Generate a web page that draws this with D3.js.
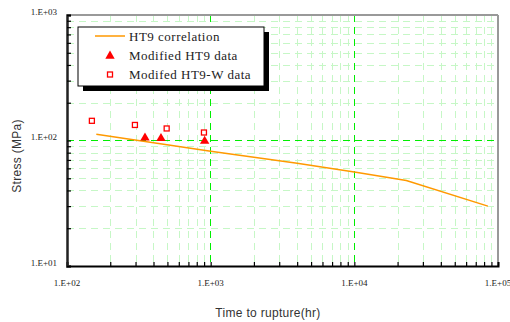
<!DOCTYPE html>
<html>
<head>
<meta charset="utf-8">
<script src="https://cdn.jsdelivr.net/npm/d3@7"></script>
<style>
  body { margin: 0; background: #fff; }
  svg { display: block; }
</style>
</head>
<body>
<svg id="chart"></svg>
<script>
"use strict";

// HT9 correlation curve (time to rupture hr, stress MPa)
const corrTime = [160, 1000, 4000, 10000, 23000, 85000];
const corrStress = [112, 82, 66, 56, 48, 30];

// Modified HT9 data
const ht9Time = [349, 451, 908];
const ht9Stress = [105, 104, 98.8];

// Modifed HT9-W data
const ht9wTime = [149, 297, 494, 898];
const ht9wStress = [143.5, 133, 124.7, 115.8];

const xTickValues = [1e2, 1e3, 1e4, 1e5];
const xTickLabels = ["1.E+02", "1.E+03", "1.E+04", "1.E+05"];
const yTickValues = [1e1, 1e2, 1e3];
const yTickLabels = ["1.E+01", "1.E+02", "1.E+03"];

const legendLabels = ["HT9 correlation", "Modified HT9 data", "Modifed HT9-W data"];

let width = 510, height = 322;
let plot = { left: 67, right: 498, top: 15, bottom: 266 };

let svg = d3.select('svg#chart')
  .attr('width', width)
  .attr('height', height);

let x = d3.scaleLog().domain([1e2, 1e5]).range([plot.left, plot.right]);
let y = d3.scaleLog().domain([1e1, 1e3]).range([plot.bottom, plot.top]);

/* minor values for grid */
function minors(lo, hi) {
  let out = [];
  for (let d = lo; d < hi; d *= 10) {
    for (let m = 2; m <= 9; m++) out.push(d * m);
  }
  return out;
}
let xMinor = minors(1e2, 1e5);
let yMinor = minors(1e1, 1e3);

let grid = svg.append('g').attr('class', 'grid')
  .attr('shape-rendering', 'crispEdges');

/* minor grid */
grid.selectAll('line.xminor')
  .data(xMinor)
  .enter().append('line')
  .attr('x1', d => Math.round(x(d)) + 0.5).attr('x2', d => Math.round(x(d)) + 0.5)
  .attr('y1', plot.top).attr('y2', plot.bottom)
  .attr('stroke', '#c6f7c6').attr('stroke-width', 1)
  .attr('stroke-dasharray', '7,5');
grid.selectAll('line.yminor')
  .data(yMinor)
  .enter().append('line')
  .attr('y1', d => Math.round(y(d)) + 0.5).attr('y2', d => Math.round(y(d)) + 0.5)
  .attr('x1', plot.left).attr('x2', plot.right)
  .attr('stroke', '#c6f7c6').attr('stroke-width', 1)
  .attr('stroke-dasharray', '7,5');

/* border top/right */
svg.append('line')
  .attr('x1', plot.left).attr('x2', plot.right)
  .attr('y1', plot.top).attr('y2', plot.top)
  .attr('stroke', '#999').attr('stroke-width', 2);
svg.append('line')
  .attr('x1', plot.right).attr('x2', plot.right)
  .attr('y1', plot.top).attr('y2', plot.bottom)
  .attr('stroke', '#999').attr('stroke-width', 2);

/* major grid */
grid.selectAll('line.xmajor')
  .data([1e3, 1e4])
  .enter().append('line')
  .attr('x1', d => x(d)).attr('x2', d => x(d))
  .attr('y1', plot.top).attr('y2', plot.bottom)
  .attr('stroke', '#00ee00').attr('stroke-width', 1.5)
  .attr('stroke-dasharray', '7,5');
grid.selectAll('line.ymajor')
  .data([1e2, 1e3])
  .enter().append('line')
  .attr('y1', d => y(d)).attr('y2', d => y(d))
  .attr('x1', plot.left).attr('x2', plot.right)
  .attr('stroke', d => d === 1e3 ? '#66bb66' : '#00ee00')
  .attr('stroke-width', 1.5)
  .attr('stroke-dasharray', '7,5');

/* axes with inside ticks */
let xAxis = d3.axisBottom(x).tickValues(xMinor.concat(xTickValues))
  .tickSize(-4).tickFormat('');
let gx = svg.append('g')
  .attr('transform', `translate(0,${plot.bottom})`)
  .call(xAxis);
gx.select('.domain').attr('stroke', '#000').attr('stroke-width', 2);
gx.selectAll('.tick line').attr('stroke', '#000').attr('stroke-width', 1.2);

let yAxis = d3.axisLeft(y).tickValues(yMinor.concat(yTickValues))
  .tickSize(-4).tickFormat('');
let gy = svg.append('g')
  .attr('transform', `translate(${plot.left},0)`)
  .call(yAxis);
gy.select('.domain').attr('stroke', '#222').attr('stroke-width', 2.5);
gy.selectAll('.tick line').attr('stroke', '#000').attr('stroke-width', 1.2);

/* tick labels */
svg.selectAll('text.xlab')
  .data(xTickValues)
  .enter().append('text')
  .attr('x', d => x(d)).attr('y', 286)
  .attr('text-anchor', 'middle')
  .style('font-family', '"Liberation Serif", serif')
  .style('font-size', '9px')
  .attr('fill', '#222')
  .text((d, i) => xTickLabels[i]);
svg.selectAll('text.ylab')
  .data(yTickValues)
  .enter().append('text')
  .attr('x', 57).attr('y', d => y(d) - 0.5)
  .attr('text-anchor', 'end')
  .style('font-family', '"Liberation Serif", serif')
  .style('font-size', '9px')
  .attr('fill', '#222')
  .text((d, i) => yTickLabels[i]);

/* axis titles */
svg.append('text')
  .attr('x', 268).attr('y', 317)
  .attr('text-anchor', 'middle')
  .style('font-family', '"Liberation Sans", Arial, sans-serif')
  .style('font-size', '12px')
  .style('letter-spacing', '0.3px')
  .attr('fill', '#333')
  .text('Time to rupture(hr)');
svg.append('text')
  .attr('transform', 'translate(21,156) rotate(-90)')
  .attr('text-anchor', 'middle')
  .style('font-family', '"Liberation Sans", Arial, sans-serif')
  .style('font-size', '12px')
  .style('letter-spacing', '0.3px')
  .attr('fill', '#333')
  .text('Stress (MPa)');

/* correlation line */
let line = d3.line()
  .x(d => x(d[0]))
  .y(d => y(d[1]));
svg.append('path')
  .datum(d3.zip(corrTime, corrStress))
  .attr('d', line)
  .attr('fill', 'none')
  .attr('stroke', '#ff9900')
  .attr('stroke-width', 1.5);

/* data markers */
let tri = d3.symbol().type(d3.symbolTriangle).size(38);
svg.selectAll('path.ht9')
  .data(d3.zip(ht9Time, ht9Stress))
  .enter().append('path')
  .attr('d', tri)
  .attr('transform', d => `translate(${x(d[0])},${y(d[1])})`)
  .attr('fill', '#ff0000');

svg.selectAll('rect.ht9w')
  .data(d3.zip(ht9wTime, ht9wStress))
  .enter().append('rect')
  .attr('x', d => x(d[0]) - 2.5)
  .attr('y', d => y(d[1]) - 2.5)
  .attr('width', 5).attr('height', 5)
  .attr('fill', '#fff')
  .attr('stroke', '#ff0000')
  .attr('stroke-width', 1.3);

/* legend */
let lg = { x: 78, y: 27, w: 186, h: 59 };
svg.append('rect')
  .attr('x', lg.x + 5).attr('y', lg.y + 5)
  .attr('width', lg.w).attr('height', lg.h)
  .attr('fill', '#000');
svg.append('rect')
  .attr('x', lg.x).attr('y', lg.y)
  .attr('width', lg.w).attr('height', lg.h)
  .attr('fill', '#fff')
  .attr('stroke', '#000').attr('stroke-width', 1);

svg.append('line')
  .attr('x1', 95).attr('x2', 125)
  .attr('y1', 36).attr('y2', 36)
  .attr('stroke', '#ff9900').attr('stroke-width', 1.5);
svg.append('path')
  .attr('d', tri)
  .attr('transform', 'translate(110,56)')
  .attr('fill', '#ff0000');
svg.append('rect')
  .attr('x', 107.5).attr('y', 72)
  .attr('width', 5).attr('height', 5)
  .attr('fill', '#fff')
  .attr('stroke', '#ff0000').attr('stroke-width', 1.3);

svg.selectAll('text.legend')
  .data(legendLabels)
  .enter().append('text')
  .attr('x', 129)
  .attr('y', (d, i) => 40.5 + i * 19)
  .style('font-family', '"Liberation Serif", serif')
  .style('font-size', '13px')
  .style('letter-spacing', '0.5px')
  .attr('fill', '#222')
  .text(d => d);
</script>
</body>
</html>
